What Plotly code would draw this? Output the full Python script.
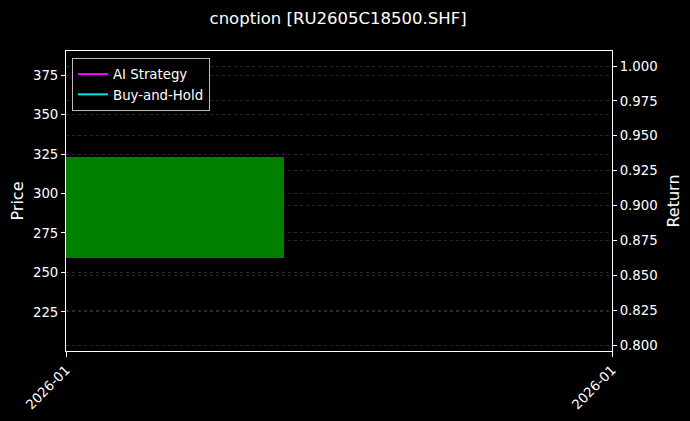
import plotly.graph_objects as go
import pandas as pd

# ---------- data ----------
dates = ["2026-01-05"]
open_px = [259.1]
close_px = [322.9]
ai_return = [1.0]
bh_return = [1.0]
x_tick_labels = ["2026-01", "2026-01"]

price_range = [200.3, 390.2]
return_range = [0.7957, 1.0108]

# candle body width 0.8 day, axis spans 2 days starting 0.4 day before the candle
d = pd.to_datetime(dates)
body_ms = 0.8 * 86400000
x0 = d[0] - pd.Timedelta(days=0.4)
x1 = x0 + pd.Timedelta(days=2.0)

fig = go.Figure()

fig.add_trace(go.Bar(
    x=d, y=[c - o for o, c in zip(open_px, close_px)], base=open_px,
    width=body_ms, marker=dict(color="#008000", line=dict(width=0)),
    showlegend=False, hoverinfo="skip"))

fig.add_trace(go.Scatter(x=d, y=ai_return, name="AI Strategy", mode="lines",
                         line=dict(color="#ff00ff", width=2), yaxis="y2"))
fig.add_trace(go.Scatter(x=d, y=bh_return, name="Buy-and-Hold", mode="lines",
                         line=dict(color="#00e5e5", width=2), yaxis="y2"))

grid = dict(showgrid=True, gridcolor="#282828", griddash="dot", gridwidth=1)
axis_font = dict(color="#ffffff", size=13.3)

fig.update_layout(
    width=690, height=421,
    paper_bgcolor="#000000", plot_bgcolor="#000000",
    font=dict(family="DejaVu Sans", color="#ffffff", size=13.3),
    title=dict(text="cnoption [RU2605C18500.SHF]", x=0.49, xanchor="center",
               y=0.957, yanchor="middle", font=dict(size=16.5)),
    margin=dict(l=66, r=78, t=51, b=70, autoexpand=False),
    showlegend=True,
    legend=dict(x=0.011, y=0.977, xanchor="left", yanchor="top",
                bgcolor="#000000", bordercolor="#bbbbbb", borderwidth=1,
                font=dict(size=13.3), tracegroupgap=0),
    bargap=0,
    xaxis=dict(type="date", range=[x0, x1], tickvals=[x0, x1], ticktext=x_tick_labels,
               tickangle=-45, ticks="outside", ticklen=5, tickcolor="#ffffff",
               showline=True, linecolor="#ffffff", linewidth=1, mirror=True,
               showgrid=False, zeroline=False, tickfont=axis_font),
    yaxis=dict(title=dict(text="Price", standoff=5), range=price_range,
               tickvals=[225, 250, 275, 300, 325, 350, 375],
               ticks="outside", ticklen=4, tickcolor="#ffffff",
               showline=True, linecolor="#ffffff", linewidth=1,
               zeroline=False, tickfont=axis_font, **grid),
    yaxis2=dict(title=dict(text="Return", standoff=11), range=return_range,
                overlaying="y", side="right", tickformat=".3f", dtick=0.025,
                ticks="outside", ticklen=4, tickcolor="#ffffff",
                showline=True, linecolor="#ffffff", linewidth=1,
                zeroline=False, tickfont=axis_font, **grid),
)

# drop the default page margin so the figure sits at the window origin
fig.write_html("out.html", config={"displayModeBar": False},
               post_script="document.body.style.margin='0';")
